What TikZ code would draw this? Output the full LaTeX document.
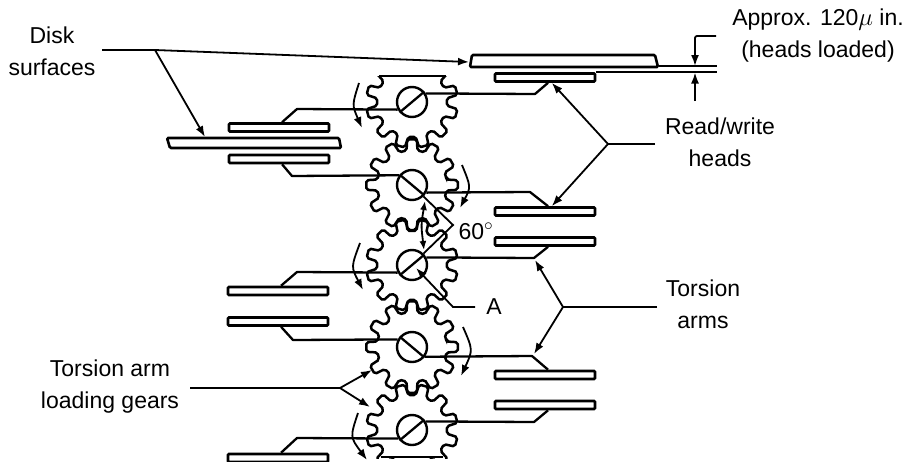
\documentclass[tikz,border=0pt]{standalone}
\usepackage{fontspec}
\setmainfont{Liberation Sans}
\usetikzlibrary{arrows.meta,calc}
\tikzset{
  head style/.style={rectangle, rounded corners=1pt, draw, line width=2.6pt, inner sep=0pt,
    minimum width=100pt, minimum height=8pt},
  hub style/.style={circle, draw, line width=2.4pt, inner sep=0pt, minimum size=30pt},
  gear style/.style={line width=2.5pt, rounded corners=2pt},
  arm style/.style={line width=2.3pt, line join=round},
  disk style/.style={line width=2.6pt, rounded corners=1.2pt},
  arr style/.style={-{Latex[length=11pt,width=8pt]}, line width=1.8pt},
  lead style/.style={line width=1.8pt},
  lbl style/.style={font=\fontsize{23}{32}\selectfont, align=center, inner sep=0pt}
}
\begin{document}
\begin{tikzpicture}[x=1pt,y=-1pt]
\useasboundingbox (0,0) rectangle (913,461);
\clip (0,0) rectangle (913,461);
\begin{scope}
\clip (340,76) rectangle (480,458);
\foreach \n/\cy/\ph in {1/102/15,2/185/0,3/265/15,4/347/0,5/430/15}
  \draw[gear style] ($(412,\cy)+(\ph-9:35)$)
    foreach \k in {0,...,11} {
      -- ($(412,\cy)+(\ph+30*\k-9:35)$) -- ($(412,\cy)+(\ph+30*\k-6:46)$)
      -- ($(412,\cy)+(\ph+30*\k+6:46)$) -- ($(412,\cy)+(\ph+30*\k+9:35)$)
    } -- cycle;
\end{scope}
\draw[gear style] (379,76)--(446,76);
\draw[gear style] (381,457)--(443,457);
\foreach \n/\cy/\sa/\sb in {1/102/40/220,2/185/-40/140,3/265/40/220,4/347/-40/140,5/430/40/220} {
  \node[hub style] (hub\n) at (412,\cy) {};
  \draw[line width=2.3pt] (hub\n.\sa)--(hub\n.\sb);
}
\node[head style] (h1) at (279,127.5) {};
\node[head style] (h2) at (279,159) {};
\node[head style] (h3) at (545,77.5) {};
\node[head style] (h4) at (545,211.5) {};
\node[head style] (h5) at (545,241.5) {};
\node[head style] (h6) at (278,291) {};
\node[head style] (h7) at (278,321.5) {};
\node[head style] (h8) at (545,375) {};
\node[head style] (h9) at (545,405) {};
\node[head style] (h10) at (278,458) {};
\draw[arm style] (hub1.208)--(297,109)--(h1.60);
\draw[arm style] (hub1.32)--(535,94)--(h3.-60);
\draw[arm style] (hub2.143)--(292,176)--(h2.-60);
\draw[arm style] (hub2.-28)--(530,192)--(h4.60);
\draw[arm style] (hub3.208)--(297,272)--(h6.60);
\draw[arm style] (hub3.28)--(534,258)--(h5.-60);
\draw[arm style] (hub4.152)--(293,340)--(h7.-60);
\draw[arm style] (hub4.-37)--(532,356)--(h8.60);
\draw[arm style] (hub5.212)--(297,438)--(h10.60);
\draw[arm style] (hub5.32)--(534,422)--(h9.-60);
\draw[disk style] (472,55)--(655,55)--(658,67)--(470,67)--cycle;
\draw[disk style] (167,138)--(339,138)--(341,148)--(170,148)--cycle;
\draw[lead style] (659,66)--(717,66);
\draw[lead style] (596,72)--(717,72);
\coordinate (diskend) at (102,50);
\coordinate (diskj) at (155,50);
\coordinate (disktip) at (469,62);
\coordinate (disktip2) at (205,137);
\draw[arr style] (diskend)--(diskj)--(disktip);
\draw[arr style] (diskj)--(disktip2);
\coordinate (gapa) at (716,36);
\coordinate (gapb) at (695,101);
\draw[arr style, rounded corners=2pt] (gapa)--(695,36)--(695,66);
\draw[arr style] (gapb)--(695,72.5);
\coordinate (rwend) at (655,144);
\coordinate (rwj) at (608,144);
\draw[lead style] (rwend)--(rwj);
\draw[arr style] (rwj)--(h3.-38);
\draw[arr style] (rwj)--(h4.38);
\coordinate (taend) at (657,307);
\coordinate (taj) at (563,307);
\draw[lead style] (taend)--(taj);
\draw[arr style] (taj)--(535,260);
\draw[arr style] (taj)--(534,354);
\coordinate (lgend) at (190,388);
\coordinate (lgj) at (340,388);
\draw[lead style] (lgend)--(lgj);
\draw[arr style] (lgj)--(372,370);
\draw[arr style] (lgj)--(370,407);
\draw[arr style] (475,307)--(453,307)--(416,268);
\draw[arr style] (359,83) .. controls (352,105) .. (362,128);
\draw[arr style] (462,165) .. controls (471,187) .. (460,208);
\draw[arr style] (360,243) .. controls (351,267) .. (363,290);
\draw[arr style] (463,327) .. controls (473,350) .. (461,376);
\draw[arr style] (358,413) .. controls (350,437) .. (367,460);
\draw[lead style] (hub2.-45)--(453,225)--(hub3.45);
\draw[{Latex[length=9pt,width=7pt]}-{Latex[length=9pt,width=7pt]}, line width=1.8pt] (425,201) .. controls (421,225) .. (424,250);
\node[lbl style] (disklbl) at (52,51.5) {Disk\\surfaces};
\node[lbl style] (gaplbl) at (818,36) {Approx. 120$\mu$ in.\\(heads loaded)};
\node[lbl style] (rwlbl) at (720,142) {Read/write\\heads};
\node[lbl style] (talbl) at (703,304) {Torsion\\arms};
\node[lbl style] (lglbl) at (110,387) {Torsion arm\\loading gears};
\node[lbl style] (alabel) at (494,307) {A};
\node[lbl style] (anglelbl) at (476,231) {60$^{\circ}$};
\end{tikzpicture}
\end{document}
